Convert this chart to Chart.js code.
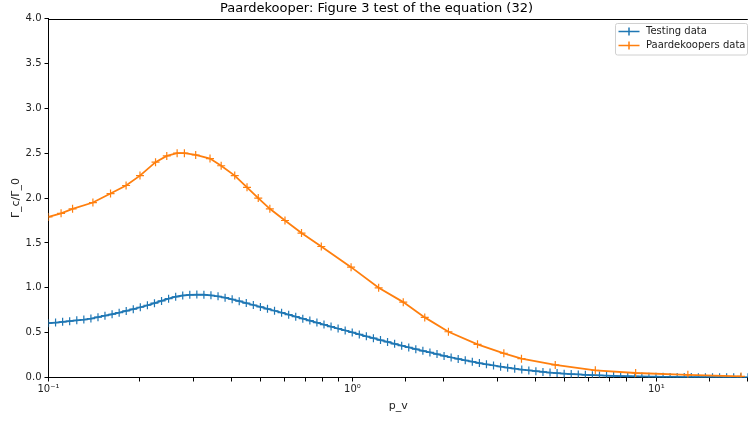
<!DOCTYPE html>
<html>
<head>
<meta charset="utf-8">
<script src="https://cdn.jsdelivr.net/npm/chart.js@4.4.1/dist/chart.umd.min.js"></script>
<style>
  html, body { margin: 0; padding: 0; background: #fff; overflow: hidden; }
  #wrap { width: 753px; height: 421px; }
</style>
</head>
<body>
<div id="wrap"><canvas id="figChart"></canvas></div>
<script>
// values
var testingX = [0.1, 0.1055, 0.1113, 0.1174, 0.1239, 0.1307, 0.1379, 0.1455, 0.1534, 0.1619,
  0.1708, 0.1802, 0.1901, 0.2005, 0.2116, 0.2232, 0.2355, 0.2484, 0.2621, 0.2765,
  0.2917, 0.3077, 0.3246, 0.3424, 0.3613, 0.3811, 0.4021, 0.4242, 0.4475, 0.4721,
  0.4981, 0.5255, 0.5543, 0.5848, 0.617, 0.6509, 0.6867, 0.7244, 0.7642, 0.8063,
  0.8506, 0.8973, 0.9467, 0.9987, 1.0536, 1.1115, 1.1726, 1.2371, 1.3051, 1.3769,
  1.4526, 1.5324, 1.6167, 1.7056, 1.7993, 1.8983, 2.0026, 2.1127, 2.2289, 2.3514,
  2.4807, 2.6171, 2.761, 2.9128, 3.0729, 3.2419, 3.4201, 3.6082, 3.8066, 4.0158,
  4.2366, 4.4695, 4.7152, 4.9745, 5.248, 5.5365, 5.8409, 6.162, 6.5008, 6.8582,
  7.2352, 7.6331, 8.0528, 8.4955, 8.9626, 9.4554, 9.9752, 10.524, 11.102, 11.713,
  12.357, 13.036, 13.753, 14.509, 15.307, 16.149, 17.037, 17.973, 18.962, 20.0];
var testingY = [0.605, 0.612, 0.620, 0.628, 0.637, 0.646, 0.657, 0.672, 0.689, 0.705,
  0.722, 0.742, 0.762, 0.783, 0.805, 0.828, 0.853, 0.878, 0.900, 0.914,
  0.921, 0.924, 0.922, 0.916, 0.905, 0.890, 0.872, 0.851, 0.830, 0.808,
  0.787, 0.765, 0.744, 0.722, 0.700, 0.678, 0.656, 0.634, 0.612, 0.590,
  0.568, 0.546, 0.524, 0.502, 0.480, 0.459, 0.438, 0.417, 0.396, 0.375,
  0.355, 0.335, 0.316, 0.297, 0.279, 0.261, 0.240, 0.223, 0.207, 0.191,
  0.176, 0.161, 0.147, 0.134, 0.121, 0.109, 0.098, 0.088, 0.079, 0.070,
  0.062, 0.055, 0.049, 0.043, 0.038, 0.034, 0.030, 0.026, 0.023, 0.020,
  0.018, 0.016, 0.014, 0.012, 0.011, 0.0095, 0.0085, 0.0075, 0.0066, 0.0058,
  0.0051, 0.0045, 0.0040, 0.0035, 0.0031, 0.0027, 0.0024, 0.0021, 0.0018, 0.0016];

var paardX = [0.1, 0.11, 0.12, 0.14, 0.16, 0.18, 0.2, 0.225, 0.245, 0.265, 0.28,
  0.305, 0.34, 0.37, 0.41, 0.45, 0.49, 0.535, 0.6, 0.68, 0.79, 0.99, 1.22,
  1.47, 1.73, 2.07, 2.58, 3.15, 3.6, 4.65, 6.3, 8.55, 12.7, 19.0];
var paardY = [1.79, 1.83, 1.88, 1.95, 2.05, 2.14, 2.25, 2.40, 2.47, 2.50, 2.50,
  2.48, 2.44, 2.36, 2.25, 2.12, 2.00, 1.88, 1.75, 1.61, 1.46, 1.23, 1.00,
  0.84, 0.67, 0.51, 0.37, 0.27, 0.21, 0.14, 0.08, 0.05, 0.03, 0.012];

var seriesNames = ['Testing data', 'Paardekoopers data'];
var yTicks = [0, 0.5, 1, 1.5, 2, 2.5, 3, 3.5, 4];
var xTickLabels = { '-1': '10\u207B\u00B9', '0': '10\u2070', '1': '10\u00B9' };

var FONT = 'DejaVu Sans';

function toPoints(xs, ys) {
  var pts = [];
  for (var i = 0; i < xs.length; i++) {
    pts.push({ x: xs[i], y: ys[i] });
  }
  return pts;
}

// matplotlib style legend inside the axes + top spine
var boxLegend = {
  id: 'boxLegend',
  afterDraw: function(chart) {
    var ctx = chart.ctx;
    var area = chart.chartArea;
    ctx.save();
    ctx.strokeStyle = '#000';
    ctx.lineWidth = 1;
    ctx.beginPath();
    ctx.moveTo(area.left, Math.round(area.top) + 0.5);
    ctx.lineTo(area.right, Math.round(area.top) + 0.5);
    ctx.stroke();

    var x0 = 615.5, y0 = 23.5, w = 132, h = 31.5;
    ctx.fillStyle = 'rgba(255,255,255,0.8)';
    ctx.strokeStyle = '#d0d0d0';
    ctx.beginPath();
    ctx.roundRect(x0, y0, w, h, 2);
    ctx.fill();
    ctx.stroke();

    ctx.font = '10px "' + FONT + '"';
    ctx.textBaseline = 'middle';
    chart.data.datasets.forEach(function(ds, i) {
      var ly = y0 + 8 + i * 14;
      ctx.strokeStyle = ds.borderColor;
      ctx.lineWidth = 1.5;
      ctx.beginPath();
      ctx.moveTo(x0 + 3, ly);
      ctx.lineTo(x0 + 24, ly);
      ctx.moveTo(x0 + 13.5, ly - 4);
      ctx.lineTo(x0 + 13.5, ly + 4);
      ctx.stroke();
      ctx.fillStyle = '#222';
      ctx.fillText(ds.label, x0 + 30.5, ly);
    });
    ctx.restore();
  }
};

var ctx = document.getElementById('figChart').getContext('2d');
var figChart = new Chart(ctx, {
  type: 'line',
  data: {
    datasets: [{
      label: seriesNames[0],
      data: toPoints(testingX, testingY),
      borderColor: '#1f77b4',
      backgroundColor: '#1f77b4',
      borderWidth: 1.8,
      pointStyle: 'cross',
      pointRadius: 4,
      pointBorderWidth: 1.2,
      tension: 0,
      order: 2
    }, {
      label: seriesNames[1],
      data: toPoints(paardX, paardY),
      borderColor: '#ff7f0e',
      backgroundColor: '#ff7f0e',
      borderWidth: 1.8,
      pointStyle: 'cross',
      pointRadius: 4,
      pointBorderWidth: 1.2,
      tension: 0,
      order: 1
    }]
  },
  options: {
    responsive: true,
    maintainAspectRatio: false,
    animation: false,
    layout: { padding: 0 },
    plugins: {
      legend: { display: false },
      tooltip: { enabled: false },
      title: {
        display: true,
        text: 'Paardekooper: Figure 3 test of the equation (32)',
        color: '#000',
        font: { family: FONT, size: 13, weight: 'normal' },
        padding: { top: 1, bottom: 2 }
      }
    },
    scales: {
      x: {
        type: 'logarithmic',
        min: 0.1,
        max: 20,
        afterFit: function(scale) { scale.height = 43.5; },
        grid: { drawOnChartArea: false, tickLength: 4, color: '#000' },
        border: { color: '#000', width: 1 },
        ticks: {
          autoSkip: false,
          maxRotation: 0,
          padding: 2,
          color: '#222',
          font: { family: FONT, size: 10 },
          callback: function(value) {
            var e = Math.log10(value);
            if (Math.abs(e - Math.round(e)) < 1e-6) {
              return xTickLabels[String(Math.round(e))] || '';
            }
            return '';
          }
        },
        title: {
          display: true,
          text: 'p_v',
          color: '#222',
          font: { family: FONT, size: 11 },
          padding: { top: 0, bottom: 8 }
        }
      },
      y: {
        type: 'linear',
        min: 0,
        max: 4,
        afterFit: function(scale) { scale.width = 48.5; },
        afterBuildTicks: function(scale) {
          scale.ticks = yTicks.map(function(v) { return { value: v }; });
        },
        grid: { drawOnChartArea: false, tickLength: 4, color: '#000' },
        border: { color: '#000', width: 1 },
        ticks: {
          padding: 3,
          color: '#222',
          font: { family: FONT, size: 10 },
          callback: function(value) { return value.toFixed(1); }
        },
        title: {
          display: true,
          text: '\u0393_c/\u0393_0',
          color: '#222',
          font: { family: FONT, size: 11 },
          padding: { top: 10, bottom: 0 }
        }
      }
    }
  },
  plugins: [boxLegend]
});
</script>
</body>
</html>
